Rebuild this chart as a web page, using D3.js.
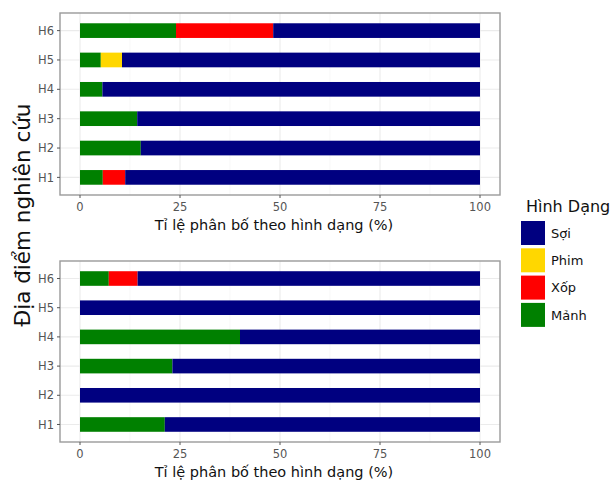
<!DOCTYPE html>
<html lang="en">
<head>
<meta charset="UTF-8">
<title>Hình dạng</title>
<script src="https://cdn.jsdelivr.net/npm/d3@7"></script>
<style>
  body { margin: 0; background: #fff; }
  text { font-family: "DejaVu Sans", Verdana, sans-serif; }
</style>
</head>
<body>
<svg id="chart" width="615" height="480"></svg>
<script>
const sites = ["H1", "H2", "H3", "H4", "H5", "H6"];
const shapes = ["Sợi", "Phim", "Xốp", "Mảnh"];
const colors = ["#000080", "#FFD700", "#FF0000", "#008000"];
const xTicks = [0, 25, 50, 75, 100];

// top panel, values in % per site (H1..H6)
const topManh = [5.7, 15.2, 14.3, 5.6, 5.2, 24.0];
const topXop  = [5.6, 0, 0, 0, 0, 24.3];
const topPhim = [0, 0, 0, 0, 5.3, 0];

// bottom panel
const botManh = [21.2, 0, 23.1, 40.0, 0, 7.2];
const botXop  = [0, 0, 0, 0, 0, 7.2];
const botPhim = [0, 0, 0, 0, 0, 0];

const xTitle = "Tỉ lệ phân bố theo hình dạng (%)";
const yTitle = "Địa điểm nghiên cứu";
const legendTitle = "Hình Dạng";

const svg = d3.select("#chart");

function buildRows(manh, xop, phim) {
  return sites.map((s, i) => {
    const soi = 100 - manh[i] - xop[i] - phim[i];
    return { site: s, "Mảnh": manh[i], "Xốp": xop[i], "Phim": phim[i], "Sợi": soi };
  });
}

function drawPanel(rows, top, bottom) {
  const left = 60, right = 500;
  const x = d3.scaleLinear().domain([-5, 105]).range([left, right]);
  const y = d3.scaleLinear().domain([0.4, 6.6]).range([bottom, top]);
  const step = y(1) - y(2);
  const barH = step * 0.5;
  const g = svg.append("g");

  g.append("rect").attr("x", left).attr("y", top)
    .attr("width", right - left).attr("height", bottom - top).attr("fill", "#fff");

  // minor grid
  g.selectAll(".minor").data([12.5, 37.5, 62.5, 87.5]).join("line")
    .attr("x1", d => x(d)).attr("x2", d => x(d)).attr("y1", top).attr("y2", bottom)
    .attr("stroke", "#f3f3f3").attr("stroke-width", 0.6);
  g.selectAll(".majx").data(xTicks).join("line")
    .attr("x1", d => x(d)).attr("x2", d => x(d)).attr("y1", top).attr("y2", bottom)
    .attr("stroke", "#ebebeb").attr("stroke-width", 1.1);
  g.selectAll(".majy").data(sites).join("line")
    .attr("y1", (d, i) => y(i + 1)).attr("y2", (d, i) => y(i + 1))
    .attr("x1", left).attr("x2", right)
    .attr("stroke", "#ebebeb").attr("stroke-width", 1.1);

  // stacked bars: Mảnh first from 0, then Xốp, Phim, Sợi
  const order = ["Mảnh", "Xốp", "Phim", "Sợi"];
  const stack = d3.stack().keys(order)(rows);
  stack.forEach(layer => {
    const col = colors[shapes.indexOf(layer.key)];
    g.selectAll(null).data(layer.filter(d => d[1] - d[0] > 0)).join("rect")
      .attr("x", d => x(d[0]))
      .attr("width", d => x(d[1]) - x(d[0]))
      .attr("y", d => y(sites.indexOf(d.data.site) + 1) - barH / 2)
      .attr("height", barH)
      .attr("fill", col);
  });

  g.append("rect").attr("x", left).attr("y", top)
    .attr("width", right - left).attr("height", bottom - top)
    .attr("fill", "none").attr("stroke", "#9a9a9a").attr("stroke-width", 1.4);

  // x ticks
  const xa = g.append("g");
  xTicks.forEach(t => {
    xa.append("line").attr("x1", x(t)).attr("x2", x(t)).attr("y1", bottom).attr("y2", bottom + 3)
      .attr("stroke", "#555").attr("stroke-width", 1);
    xa.append("text").attr("x", x(t)).attr("y", bottom + 16)
      .attr("text-anchor", "middle").attr("font-size", 11.5).attr("fill", "#555").text(t);
  });
  // y ticks
  sites.forEach((s, i) => {
    g.append("line").attr("x1", left - 3).attr("x2", left).attr("y1", y(i + 1)).attr("y2", y(i + 1))
      .attr("stroke", "#555");
    g.append("text").attr("x", left - 6).attr("y", y(i + 1)).attr("dy", "0.36em")
      .attr("text-anchor", "end").attr("font-size", 11.5).attr("fill", "#555").text(s);
  });

  g.append("text").attr("x", 274).attr("y", bottom + 35)
    .attr("text-anchor", "middle").attr("font-size", 14.5).attr("fill", "#111").text(xTitle);
}

drawPanel(buildRows(topManh, topXop, topPhim), 13, 195);
drawPanel(buildRows(botManh, botXop, botPhim), 261, 442);

svg.append("text")
  .attr("transform", "translate(30,215) rotate(-90)")
  .attr("text-anchor", "middle").attr("font-size", 21.5).attr("fill", "#111").text(yTitle);

// legend
const lg = svg.append("g").attr("transform", "translate(521,0)");
lg.append("text").attr("x", 5).attr("y", 212).attr("font-size", 16).attr("fill", "#111").text(legendTitle);
shapes.forEach((s, i) => {
  lg.append("rect").attr("x", 0).attr("y", 221 + i * 27.3).attr("width", 24).attr("height", 24)
    .attr("fill", colors[i]);
  lg.append("text").attr("x", 30).attr("y", 233 + i * 27.3).attr("dy", "0.36em")
    .attr("font-size", 13).attr("fill", "#111").text(s);
});
</script>
</body>
</html>
